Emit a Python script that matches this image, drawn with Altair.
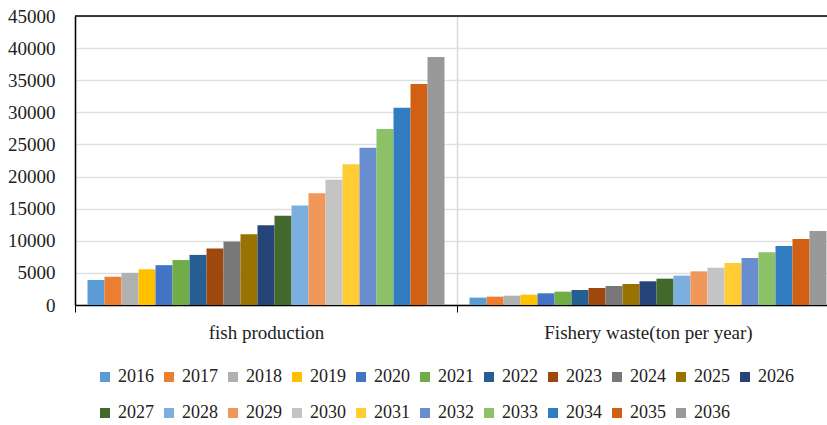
import altair as alt
import pandas as pd

years = [str(y) for y in range(2016, 2037)]
categories = ["fish production", "Fishery waste(ton per year)"]
fish = [3900, 4400, 5000, 5550, 6200, 7000, 7800, 8800, 9900, 11000, 12400,
        13900, 15500, 17400, 19500, 21900, 24500, 27400, 30700, 34400, 38600]
waste = [1150, 1300, 1450, 1600, 1820, 2080, 2340, 2650, 2960, 3270, 3690,
         4100, 4570, 5240, 5810, 6540, 7320, 8200, 9190, 10280, 11530]
colors = ["#5B9BD5", "#ED7D31", "#B0B0B0", "#FFC000", "#4472C4", "#70AD47",
          "#255E91", "#9E480E", "#787878", "#997300", "#264478", "#43682B",
          "#7CAFDD", "#F1975A", "#C4C4C4", "#FFCD33", "#698ED0", "#8CC168",
          "#327DC2", "#D26012", "#999999"]
y_ticks = list(range(0, 45001, 5000))

rows = []
for cat, vals in zip(categories, [fish, waste]):
    for y, v in zip(years, vals):
        rows.append({"category": cat, "year": y, "value": v})
df = pd.DataFrame(rows)

font = "Liberation Serif"
W = 752        # visible plot width (fits window)
FULL = 764     # full category range (right edge is cut off in the reference)
H = 289

bars = alt.Chart(df).mark_bar().encode(
    x=alt.X("category:N", sort=categories, title=None,
            scale=alt.Scale(paddingInner=0, paddingOuter=0, range=[0, FULL]),
            axis=alt.Axis(labelAngle=0, labelFontSize=19, labelColor="#222",
                          labelFont=font, labelLimit=500,
                          domainColor="#000", domainWidth=1.5,
                          tickColor="#000", tickSize=7, tickBand="extent",
                          grid=True, gridColor="#d9d9d9", gridWidth=1.5,
                          labelPadding=11)),
    xOffset=alt.XOffset("year:N", sort=years,
                        scale=alt.Scale(paddingInner=0, paddingOuter=0.735)),
    y=alt.Y("value:Q", title=None,
            scale=alt.Scale(domain=[0, 45000], nice=False),
            axis=alt.Axis(values=y_ticks, format="d",
                          labelFontSize=19, labelColor="#222", labelFont=font,
                          labelOverlap=False, ticks=False,
                          domain=True, domainColor="#000", domainWidth=1.5,
                          labelPadding=20, gridColor="#e0e0e0", gridWidth=1.5)),
    color=alt.Color("year:N", sort=years,
                    scale=alt.Scale(domain=years, range=colors),
                    legend=alt.Legend(title=None, orient="none", legendX=21,
                                      legendY=352, direction="horizontal",
                                      columns=11, symbolType="square",
                                      symbolSize=100, symbolStrokeWidth=0,
                                      labelFont=font,
                                      labelFontSize=18, labelColor="#222",
                                      labelOffset=4, columnPadding=6,
                                      rowPadding=18, padding=0)),
)

# top frame line of the plot area
top = alt.Chart(pd.DataFrame({"v": [0]})).mark_rule(
    color="#000", strokeWidth=1.5
).encode(y=alt.value(0), x=alt.value(0), x2=alt.value(FULL))

chart = alt.layer(bars, top).properties(
    width=W, height=H,
    autosize=alt.AutoSizeParams(type="none"),
    padding={"left": 75, "top": 16, "right": 0, "bottom": 425 - 16 - H},
).configure(font=font).configure_view(stroke=None)

chart.save("out.html", embed_options={"renderer": "svg", "actions": False})
